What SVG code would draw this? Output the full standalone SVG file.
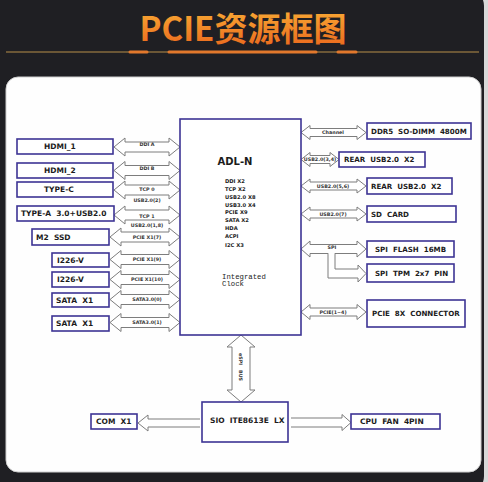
<svg xmlns="http://www.w3.org/2000/svg" width="488" height="482" viewBox="0 0 488 482">
<defs>
<linearGradient id="tg" x1="0" y1="0" x2="0" y2="1">
<stop offset="0" stop-color="#fbb437"/>
<stop offset="1" stop-color="#e8621b"/>
</linearGradient>
<style>
.box{fill:#fff;stroke:#3d3494;stroke-width:1.6}
.t{font-family:"DejaVu Sans","Liberation Sans",sans-serif;font-weight:bold;font-size:7.5px;fill:#1c1c1c;white-space:pre}
.tr{font-size:7.1px}
.ar{fill:#fff;stroke:#7d7d7d;stroke-width:1}
.lb{font-family:"DejaVu Sans","Liberation Sans",sans-serif;font-weight:bold;font-size:4.8px;fill:#333;text-anchor:middle;white-space:pre}
.sm{font-family:"DejaVu Sans","Liberation Sans",sans-serif;font-weight:bold;font-size:5.2px;fill:#222}
.mono{font-family:"Liberation Mono","DejaVu Sans Mono",monospace;font-size:7.3px;fill:#222}
</style>
</defs>
<rect x="0" y="0" width="488" height="482" fill="#d8d8d8"/>
<rect x="-12" y="-12" width="496" height="506" rx="18" fill="#1f1f23"/>
<text x="243" y="41" text-anchor="middle" font-family="'Noto Sans CJK SC','Noto Sans',sans-serif" font-weight="bold" font-size="33" fill="url(#tg)">PCIE资源框图</text>
<line x1="6" y1="52" x2="479" y2="52" stroke="#b8904a" stroke-width="1"/>
<g stroke="#e2782c" stroke-width="3" stroke-linecap="round">
<line x1="130" y1="52" x2="147" y2="52"/>
<line x1="169" y1="52" x2="316" y2="52"/>
<line x1="338" y1="52" x2="356" y2="52"/>
</g>
<rect x="6" y="77" width="475" height="395" rx="12" fill="#fefefe" stroke="#cfcfcf" stroke-width="1"/>

<g id="connectors">
<polygon class="ar" points="114,147 125,138 125,142 169,142 169,138 180,147 169,156 169,152 125,152 125,156"/>
<polygon class="ar" points="114,170.5 125,161.5 125,165.5 169,165.5 169,161.5 180,170.5 169,179.5 169,175.5 125,175.5 125,179.5"/>
<polygon class="ar" points="114,190 125,181 125,185 169,185 169,181 180,190 169,199 169,195 125,195 125,199"/>
<polygon class="ar" points="114,215 125,206 125,210 169,210 169,206 180,215 169,224 169,220 125,220 125,224"/>
<polygon class="ar" points="110,237 121,228 121,232 169,232 169,228 180,237 169,246 169,242 121,242 121,246"/>
<polygon class="ar" points="110,259.5 121,250.5 121,254.5 169,254.5 169,250.5 180,259.5 169,268.5 169,264.5 121,264.5 121,268.5"/>
<polygon class="ar" points="110,279.5 121,270.5 121,274.5 169,274.5 169,270.5 180,279.5 169,288.5 169,284.5 121,284.5 121,288.5"/>
<polygon class="ar" points="110,299.5 121,290.5 121,294.5 169,294.5 169,290.5 180,299.5 169,308.5 169,304.5 121,304.5 121,308.5"/>
<polygon class="ar" points="110,322.5 121,313.5 121,317.5 169,317.5 169,313.5 180,322.5 169,331.5 169,327.5 121,327.5 121,331.5"/>
<text class="lb" x="147" y="146">DDI A</text>
<text class="lb" x="147" y="169.5">DDI B</text>
<text class="lb" x="147" y="191">TCP 0</text>
<text class="lb" x="147" y="201.5">USB2.0(2)</text>
<text class="lb" x="147" y="217.5">TCP 1</text>
<text class="lb" x="147" y="226.5">USB2.0(1,8)</text>
<text class="lb" x="147" y="238.5">PCIE X1(7)</text>
<text class="lb" x="147" y="261">PCIE X1(9)</text>
<text class="lb" x="147" y="281">PCIE X1(10)</text>
<text class="lb" x="147" y="301">SATA3.0(0)</text>
<text class="lb" x="147" y="324">SATA3.0(1)</text>

<polygon class="ar" points="301,132.5 310,125.5 310,128.5 357,128.5 357,125.5 366,132.5 357,139.5 357,136.5 310,136.5 310,139.5"/>
<polygon class="ar" points="301,159.5 310,152.5 310,155.5 330,155.5 330,152.5 339,159.5 330,166.5 330,163.5 310,163.5 310,166.5"/>
<polygon class="ar" points="301,186 310,179 310,182 357,182 357,179 366,186 357,193 357,190 310,190 310,193"/>
<polygon class="ar" points="301,214 310,207 310,210 357,210 357,207 366,214 357,221 357,218 310,218 310,221"/>
<polygon class="ar" points="301,249 310,241 310,244.5 357,244.5 357,241 366,249 357,257 357,253.5 310,253.5 310,257"/>
<path class="ar" d="M328,253.5 V278 H358 V282 L366,273.5 L358,265 V269 H335 V253.5"/>
<line x1="328.6" y1="253.5" x2="334.4" y2="253.5" stroke="#fff" stroke-width="1.4"/>
<polygon class="ar" points="301,312 310,304.5 310,308 357,308 357,304.5 366,312 357,319.5 357,316 310,316 310,319.5"/>
<text class="lb" x="333" y="134">Channel</text>
<text class="lb" x="320" y="161">USB2.0(3,4)</text>
<text class="lb" x="333" y="187.5">USB2.0(5,6)</text>
<text class="lb" x="333" y="215.5">USB2.0(7)</text>
<text class="lb" x="332" y="248.5">SPI</text>
<text class="lb" x="333" y="313.5">PCIE(1~4)</text>

<polygon class="ar" points="241,335 255,347 250,347 250,390 255,390 241,402 227,390 232,390 232,347 227,347"/>
<text class="lb" transform="translate(241,367) rotate(90)" y="1.8" font-size="5.4">eSPI   BUS</text>
<path class="ar" d="M200,419 H148 V415 L138,423 L148,431 V427 H200"/>
<path class="ar" d="M291,418 H342 V414.5 L351,422.5 L342,430.5 V427 H291"/>
</g>

<g id="adl-n">
<rect class="box" x="180" y="119" width="121" height="216"/>
<text x="235" y="165" text-anchor="middle" font-family="'DejaVu Sans',sans-serif" font-weight="bold" font-size="10" fill="#1c1c1c">ADL-N</text>
<text class="sm" x="225" y="183">DDI X2</text>
<text class="sm" x="225" y="191">TCP X2</text>
<text class="sm" x="225" y="199">USB2.0 X8</text>
<text class="sm" x="225" y="206.5">USB3.0 X4</text>
<text class="sm" x="225" y="214">PCIE X9</text>
<text class="sm" x="225" y="221.5">SATA X2</text>
<text class="sm" x="225" y="230">HDA</text>
<text class="sm" x="225" y="238">ACPI</text>
<text class="sm" x="225" y="246.5">I2C X3</text>
<text class="mono" x="222" y="279">Integrated</text>
<text class="mono" x="222" y="286">Clock</text>
</g>

<g id="hdmi1"><rect class="box" x="17" y="139" width="96" height="15"/><text class="t" x="44" y="149.2">HDMI_1</text></g>
<g id="hdmi2"><rect class="box" x="17" y="163" width="96" height="15"/><text class="t" x="44" y="173.2">HDMI_2</text></g>
<g id="typec"><rect class="box" x="17" y="182" width="96" height="15"/><text class="t" x="44" y="192.2">TYPE-C</text></g>
<g id="typea"><rect class="box" x="17" y="206" width="97" height="15"/><text class="t" x="21" y="216.2">TYPE-A  3.0+USB2.0</text></g>
<g id="m2ssd"><rect class="box" x="32" y="229" width="77" height="16"/><text class="t" x="36" y="239.7">M2  SSD</text></g>
<g id="i226v1"><rect class="box" x="52" y="253" width="57" height="14"/><text class="t" x="57" y="262.7">I226-V</text></g>
<g id="i226v2"><rect class="box" x="52" y="272" width="57" height="15"/><text class="t" x="57" y="282.2">I226-V</text></g>
<g id="sata1"><rect class="box" x="52" y="293" width="57" height="14"/><text class="t" x="56" y="302.7">SATA  X1</text></g>
<g id="sata2"><rect class="box" x="52" y="316" width="57" height="15"/><text class="t" x="56" y="326.2">SATA  X1</text></g>

<g id="ddr5"><rect class="box" x="367" y="123" width="104" height="16"/><text class="t tr" x="371" y="133.7">DDR5  SO-DIMM  4800M</text></g>
<g id="rearusb1"><rect class="box" x="339" y="152" width="86" height="15"/><text class="t tr" x="344" y="162.2">REAR  USB2.0  X2</text></g>
<g id="rearusb2"><rect class="box" x="367" y="178" width="85" height="16"/><text class="t tr" x="371" y="188.7">REAR  USB2.0  X2</text></g>
<g id="sdcard"><rect class="box" x="367" y="206" width="89" height="16"/><text class="t tr" x="371" y="216.7">SD  CARD</text></g>
<g id="spiflash"><rect class="box" x="367" y="241" width="87" height="16"/><text class="t tr" x="375" y="251.7">SPI  FLASH  16MB</text></g>
<g id="spitpm"><rect class="box" x="367" y="264" width="87" height="18"/><text class="t tr" x="375" y="275.7">SPI  TPM  2x7  PIN</text></g>
<g id="pcie8x"><rect class="box" x="367" y="300" width="98" height="27"/><text class="t tr" x="372" y="316">PCIE  8X  CONNECTOR</text></g>

<g id="sio"><rect class="box" x="202" y="402" width="86" height="40"/><text class="t" x="210" y="422.5">SIO  ITE8613E  LX</text></g>
<g id="com"><rect class="box" x="91" y="414" width="46" height="15"/><text class="t" x="96" y="424.2">COM  X1</text></g>
<g id="cpufan"><rect class="box" x="351" y="414" width="89" height="15"/><text class="t" x="360" y="424.2">CPU  FAN  4PIN</text></g>
</svg>
